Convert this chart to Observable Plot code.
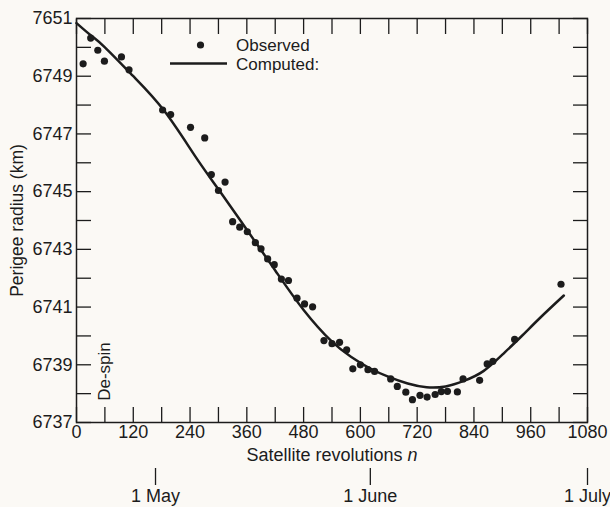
<!DOCTYPE html>
<html><head><meta charset="utf-8">
<script src="https://cdn.jsdelivr.net/npm/d3@7"></script>
<script src="https://cdn.jsdelivr.net/npm/@observablehq/plot@0.6"></script>
<style>
html,body{margin:0;padding:0;background:#fbf9f5;}
#chart{width:610px;height:507px;}
</style>
</head><body><div id="chart"></div>
<script>
// Observed perigee radius (revolution number, km)
const obsRev = [14,30,45,59,95,111,182,199,241,271,285,300,314,330,345,361,378,390,404,418,433,448,466,482,499,523,540,556,571,584,600,616,630,664,678,696,710,726,741,758,771,784,805,817,852,868,880,926,1024];
const obsKm  = [6749.43,6750.32,6749.90,6749.52,6749.67,6749.22,6747.83,6747.67,6747.23,6746.86,6745.59,6745.04,6745.33,6743.96,6743.77,6743.61,6743.23,6743.02,6742.67,6742.47,6741.97,6741.92,6741.31,6741.11,6741.01,6739.84,6739.73,6739.78,6739.52,6738.86,6739.00,6738.83,6738.77,6738.51,6738.25,6738.05,6737.79,6737.94,6737.88,6737.97,6738.07,6738.08,6738.06,6738.51,6738.46,6739.03,6739.12,6739.88,6741.79];
// Computed curve
const fitRev = [0,30,60,120,185,250,300,360,420,480,540,580,620,660,700,740,780,820,860,900,940,980,1030];
const fitKm  = [6750.84,6750.42,6750.00,6749.00,6747.81,6746.25,6745.08,6743.68,6742.27,6740.90,6739.80,6739.28,6738.88,6738.58,6738.35,6738.22,6738.25,6738.45,6738.78,6739.35,6739.98,6740.63,6741.40];
// Axes
const xMinorTicks = [0,60,120,180,240,300,360,420,480,540,600,660,720,780,840,900,960,1020,1080];
const xLabelTicks = [0,120,240,360,480,600,720,840,960,1080];
const yTicks = [6737,6738,6739,6740,6741,6742,6743,6744,6745,6746,6747,6748,6749,6750,6751];
const yLabelTicks = [6737,6739,6741,6743,6745,6747,6749,6751];
const yTickLabels = ["6737","6739","6741","6743","6745","6747","6749","7651"];
const dateRevs = [167,621,1080];
const dateLabels = ["1 May","1 June","1 July"];
const xLabel = "Satellite revolutions n";
const yLabel = "Perigee radius (km)";
const despinLabel = "De-spin";
const legendLabels = ["Observed","Computed:"];

const observed = obsRev.map((r,i)=>({rev:r, km:obsKm[i]}));
const computed = fitRev.map((r,i)=>({rev:r, km:fitKm[i]}));
const ink = "#1c1c1c";

function legend(index, scales, values, dims) {
  const g = d3.create("svg:g").attr("font-size",17).attr("fill",ink).attr("text-anchor","start");
  g.append("circle").attr("cx",200.5).attr("cy",45).attr("r",3.6).attr("fill",ink);
  g.append("text").attr("x",236).attr("y",45).attr("dy","0.35em").text(legendLabels[0]);
  g.append("line").attr("x1",170).attr("x2",227).attr("y1",63.5).attr("y2",63.5).attr("stroke",ink).attr("stroke-width",2.5);
  g.append("text").attr("x",236).attr("y",64).attr("dy","0.35em").text(legendLabels[1]);
  return g.node();
}

const plot = Plot.plot({
  width: 610, height: 507,
  marginLeft: 76, marginRight: 23, marginTop: 18, marginBottom: 85,
  style: {background: "transparent", fontFamily: "'Liberation Sans', Arial, sans-serif", fontSize: "18px", color: ink},
  x: {domain: [0,1080]},
  y: {domain: [6737,6751]},
  marks: [
    Plot.frame({stroke: ink, strokeWidth: 1.5}),
    Plot.axisX({ticks: xMinorTicks, anchor: "bottom", tickSize: 15, dy: -15, fill: "none", label: null, strokeWidth: 1.3}),
    Plot.axisX({ticks: xMinorTicks, anchor: "top", tickSize: 15, dy: 15, fill: "none", label: null, strokeWidth: 1.3}),
    Plot.axisY({ticks: yTicks, anchor: "left", tickSize: 15, dx: 15, fill: "none", label: null, strokeWidth: 1.3}),
    Plot.axisY({ticks: yTicks, anchor: "right", tickSize: 15, dx: -15, fill: "none", label: null, strokeWidth: 1.3}),
    Plot.axisX({ticks: xLabelTicks, anchor: "bottom", tickSize: 0, tickPadding: 3, label: null, fontSize: 18,
      tickFormat: d => String(d)}),
    Plot.axisY({ticks: yLabelTicks, anchor: "left", tickSize: 0, tickPadding: 4, label: null, fontSize: 18,
      tickFormat: d => yTickLabels[yLabelTicks.indexOf(d)]}),
    Plot.axisX({ticks: dateRevs, anchor: "bottom", tickSize: 17, dy: 46, tickPadding: 4, label: null, fontSize: 18, strokeWidth: 1.3,
      tickFormat: d => dateLabels[dateRevs.indexOf(d)]}),
    Plot.text([xLabel], {frameAnchor: "bottom", dy: 33, text: d => d, textAnchor: "middle", lineAnchor: "middle", fontSize: 18}),
    Plot.text([yLabel], {frameAnchor: "left", dx: -59, text: d => d, rotate: -90, textAnchor: "middle", lineAnchor: "middle", fontSize: 17.5}),
    Plot.text([despinLabel], {frameAnchor: "bottom-left", dx: 28, dy: -51, text: d => d, rotate: -90, textAnchor: "middle", lineAnchor: "middle", fontSize: 17}),
    Plot.line(computed, {x: "rev", y: "km", stroke: ink, strokeWidth: 2.5, curve: "natural"}),
    Plot.dot(observed, {x: "rev", y: "km", r: 3.6, fill: ink, stroke: "none"}),
    legend
  ]
});
document.getElementById("chart").appendChild(plot);
d3.select(plot).selectAll("text").filter(function(){ return this.textContent === xLabel; }).each(function(){
  const t = d3.select(this);
  t.text("");
  t.append("tspan").text("Satellite revolutions ");
  t.append("tspan").attr("font-style","italic").text("n");
});
</script>
</body></html>
